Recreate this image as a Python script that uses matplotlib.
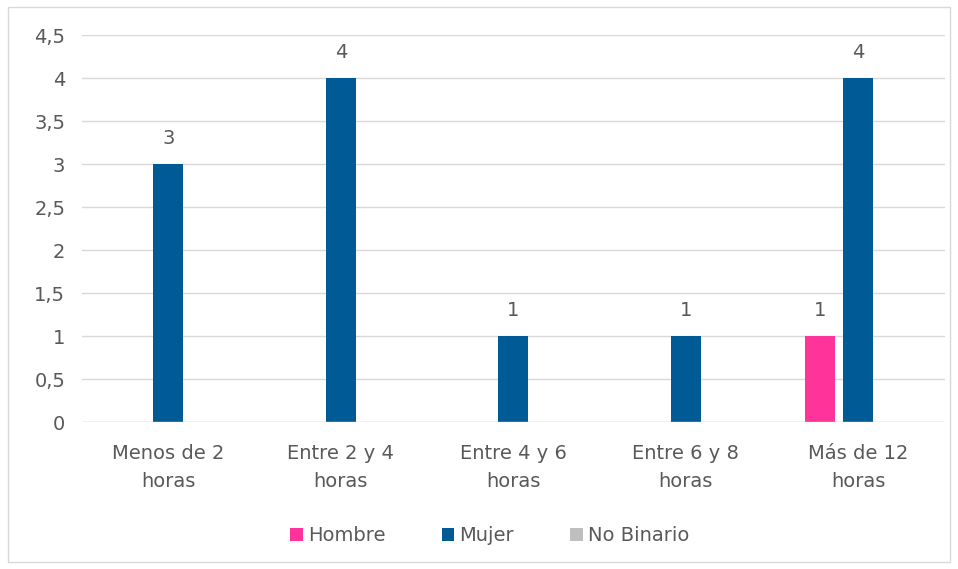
import matplotlib
matplotlib.use("Agg")
import matplotlib.pyplot as plt
import numpy as np
from matplotlib.patches import Rectangle

categories = ["Menos de 2\nhoras", "Entre 2 y 4\nhoras", "Entre 4 y 6\nhoras", "Entre 6 y 8\nhoras", "Más de 12\nhoras"]
series_names = ["Hombre", "Mujer", "No Binario"]
hombre = [0, 0, 0, 0, 1]
mujer = [3, 4, 1, 1, 4]
no_binario = [0, 0, 0, 0, 0]
colors = ["#FF3399", "#005A96", "#BFBFBF"]
yticks = [0, 0.5, 1, 1.5, 2, 2.5, 3, 3.5, 4, 4.5]
ytick_labels = ["0", "0,5", "1", "1,5", "2", "2,5", "3", "3,5", "4", "4,5"]

plt.rcParams['font.family'] = ['DejaVu Sans']
txt = "#595959"
fs = 14

fig = plt.figure(figsize=(9.58, 5.69), dpi=100)
fig.patches.append(Rectangle((0.008, 0.012), 0.984, 0.976, transform=fig.transFigure,
                             fill=False, edgecolor="#D9D9D9", linewidth=1))
ax = fig.add_axes([0.0856, 0.258, 0.9004, 0.680])

x = np.arange(len(categories))
w = 0.174
off = 0.22
for i, (vals, name) in enumerate(zip([hombre, mujer, no_binario], series_names)):
    pos = x + (i - 1) * off
    ax.bar(pos, vals, width=w, color=colors[i], label=name, zorder=3)
    for xp, v in zip(pos, vals):
        if v:
            ax.text(xp, v + 0.19, f"{v}", ha="center", va="bottom", fontsize=fs, color=txt)

ax.set_xlim(-0.5, len(categories) - 0.5)
ax.set_ylim(0, 4.5)
ax.set_yticks(yticks)
ax.set_yticklabels(ytick_labels, fontsize=fs, color=txt)
ax.set_xticks(x)
ax.set_xticklabels(categories, fontsize=fs, color=txt, linespacing=1.55)
ax.tick_params(axis="y", length=0, pad=12)
ax.tick_params(axis="x", length=0, pad=16)
ax.grid(axis="y", color="#D9D9D9", linewidth=1, zorder=0)
for s in ax.spines.values():
    s.set_visible(False)
ax.axhline(0, color="#D9D9D9", linewidth=1, zorder=4)

leg = fig.legend(loc="center", bbox_to_anchor=(0.511, 0.058), ncol=3, frameon=False,
                 fontsize=fs, handlelength=0.65, handleheight=0.65, handletextpad=0.25,
                 columnspacing=2.9)
for t in leg.get_texts():
    t.set_color(txt)

fig.savefig("out.png", dpi=100)
